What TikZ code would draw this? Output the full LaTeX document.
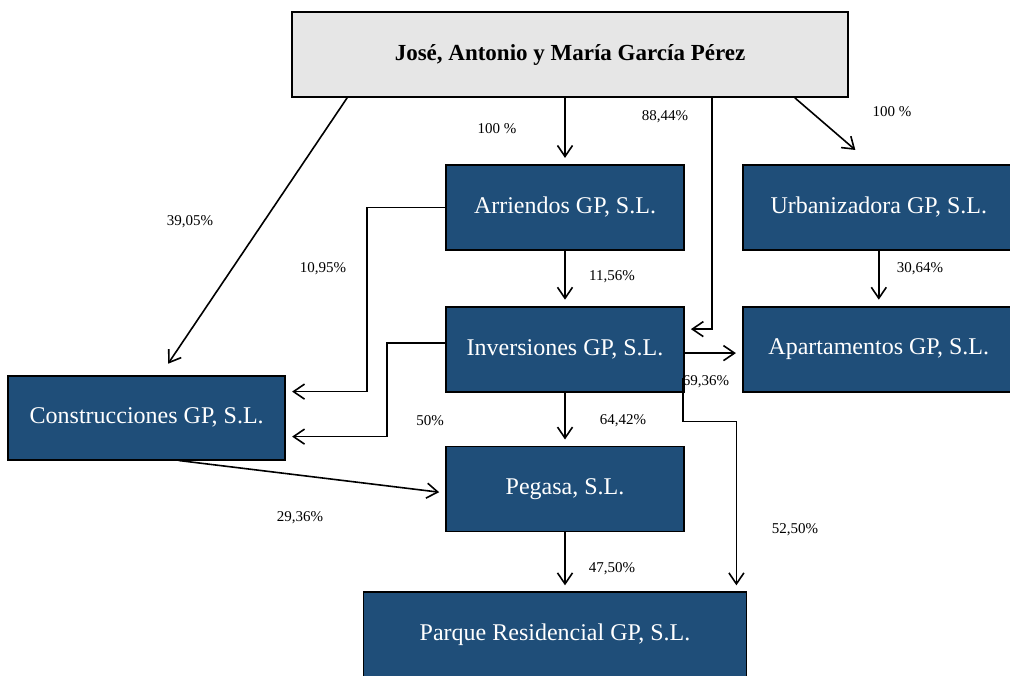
\documentclass[tikz,border=0pt]{standalone}
\usepackage{fontspec}
\setmainfont{Liberation Serif}
\usetikzlibrary{positioning,arrows.meta}
\definecolor{gpblue}{HTML}{1F4E79}
\definecolor{gpgray}{HTML}{E6E6E6}

\begin{document}
\begin{tikzpicture}[x=0.5pt, y=-0.5pt,
    box/.style={rectangle, draw=black, line width=0.9pt, fill=gpblue, text=white, minimum width=119pt, minimum height=42.5pt, inner sep=0pt, font=\fontsize{12}{14}\selectfont},
    owner/.style={box, fill=gpgray, text=black, minimum width=278pt, font=\fontsize{11.5}{14}\selectfont\bfseries},
    arrow/.style={-{Straight Barb[length=5.5pt,width=7.5pt]}, line width=0.8pt, shorten >=3pt},
    pct/.style={inner sep=0pt, font=\fontsize{7.5}{9}\selectfont}
]
    \useasboundingbox (0,0) rectangle (1010,675);

    \node[owner] (top) at (570,54.5) {José, Antonio y María García Pérez};
    \node[box, below=33pt of top, xshift=-2.5pt] (arr) {Arriendos GP, S.L.};
    \node[box, below=27.5pt of arr] (inv) {Inversiones GP, S.L.};
    \node[box, below=26.5pt of inv] (peg) {Pegasa, S.L.};
    \node[box, below=29.5pt of peg, xshift=-5pt, minimum width=191.5pt] (parque) {Parque Residencial GP, S.L.};

    \node[box, right=28.5pt of arr, minimum width=136pt] (urb) {Urbanizadora GP, S.L.};
    \node[box, right=28.5pt of inv, minimum width=136pt] (apt) {Apartamentos GP, S.L.};
    \node[box, left=79.5pt of inv, yshift=-34.25pt, minimum width=138.5pt, minimum height=42pt] (con) {Construcciones GP, S.L.};

    % percentages
    \node[pct] (p-arr) at (497,129) {100 \%};
    \node[pct] (p-inv) at (665,117) {88,44\%};
    \node[pct] (p-urb) at (892,112) {100 \%};
    \node[pct] (p-con) at (190,222) {39,05\%};
    \node[pct] (p-arrcon) at (323,269) {10,95\%};
    \node[pct] (p-arrinv) at (612,277) {11,56\%};
    \node[pct] (p-urbapt) at (920,269) {30,64\%};
    \node[pct] (p-invcon) at (430,421) {50\%};
    \node[pct] (p-invapt) at (706,382) {69,36\%};
    \node[pct] (p-invpeg) at (623,421) {64,42\%};
    \node[pct] (p-invpar) at (795,530) {52,50\%};
    \node[pct] (p-conpeg) at (300,518) {29,36\%};
    \node[pct] (p-pegpar) at (612,569) {47,50\%};

    \coordinate (c88) at ([xshift=-68.5pt]top.south east);
    \coordinate (cu1) at ([xshift=-27pt]top.south east);
    \coordinate (cu2) at ([xshift=59pt,yshift=5pt]urb.north west);
    \coordinate (cc1) at ([xshift=28pt]top.south west);
    \coordinate (cc2) at ([xshift=9pt,yshift=3pt]con.north);

    \draw[arrow] (top.south -| arr.north) -- (arr.north);
    \draw[arrow] (c88) |- ([yshift=10pt]inv.east);
    \draw[arrow] (cu1) -- (cu2);
    \draw[arrow] (cc1) -- (cc2);

    \draw[arrow] (arr.west) -- ++(-39pt,0) |- ([yshift=13pt]con.east);
    \draw[arrow] (arr.south) -- (inv.north);
    \draw[arrow] (urb.south) -- (apt.north);

    \draw[arrow] ([yshift=3pt]inv.west) -- ++(-29pt,0) |- ([yshift=-9.5pt]con.east);
    \draw[arrow] ([yshift=-2pt]inv.east) -- ([yshift=-2pt]apt.west);
    \draw[arrow] (inv.south) -- (peg.north);
    \draw[arrow] ([xshift=-1pt,yshift=7.5pt]inv.south east) -- ++(0,-22pt) -| ([xshift=-5.5pt]parque.north east);

    \draw[arrow] ([xshift=16pt]con.south) -- ([yshift=-2pt]peg.west);
    \draw[arrow] (peg.south) -- (peg.south |- parque.north);
\end{tikzpicture}
\end{document}
